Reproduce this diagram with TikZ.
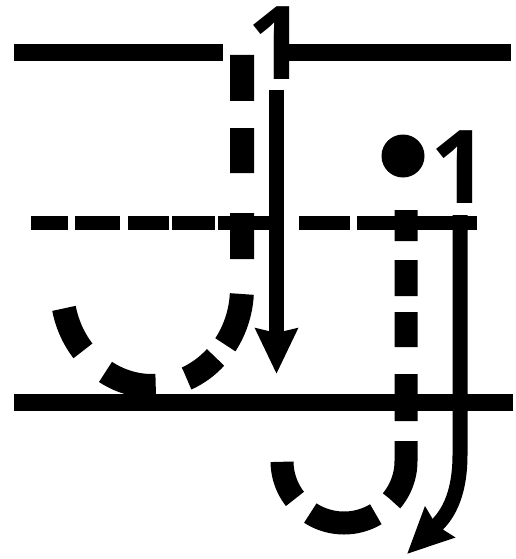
\documentclass[tikz,border=0pt]{standalone}
\usepackage{fontspec}
\newfontfamily\numfont{Open Sans}
\usetikzlibrary{arrows.meta}

\begin{document}
\begin{tikzpicture}[x=1pt,y=-1pt,
    guide/.style={line width=17pt},
    midguide/.style={line width=14pt},
    stroke/.style={line width=24pt},
    order/.style={line width=15pt,-{Stealth[length=45pt,width=41pt,inset=4pt]}},
    num/.style={font=\numfont\bfseries\fontsize{102}{102}\selectfont,inner sep=0pt,anchor=base}]
  \useasboundingbox (0,0) rectangle (516,559);
  % guide lines
  \draw[guide] (14,52.5)--(223,52.5);
  \draw[guide] (284,52.5)--(511,52.5);
  \draw[guide] (14,402.5)--(513,402.5);
  \foreach \a/\b in {31/68,75/120,128/169,172/215,218/272,299/350,357/398,414/477}
    {\draw[midguide] (\a,223)--(\b,223);}
  % J
  \draw[stroke,dash pattern=on 46pt off 27pt on 45pt off 40pt on 46pt off 35pt on 54pt off 16pt on 36pt off 32pt on 53pt off 31pt on 47pt off 20pt]
    (242,55)--(242,288) arc[start angle=0,end angle=168,x radius=90,y radius=98];
  \draw[order] (276.5,90)--(276.5,374);
  \node[num] (orderJ) at (277,80) {1};
  % j
  \fill (403,156) circle[radius=21.5];
  \draw[stroke,line width=23pt,dash pattern=on 31pt off 19pt on 36pt off 16pt on 35pt off 27pt on 47pt off 20pt on 63pt off 21pt on 69pt off 21pt on 40pt off 20pt]
    (406,210)--(406,461) arc[start angle=0,end angle=180,radius=62];
  \draw[order] (460,215)--(460,455) .. controls (460,505) and (440,522) .. (407,554);
  \node[num] (orderj) at (460,203) {1};
\end{tikzpicture}
\end{document}
